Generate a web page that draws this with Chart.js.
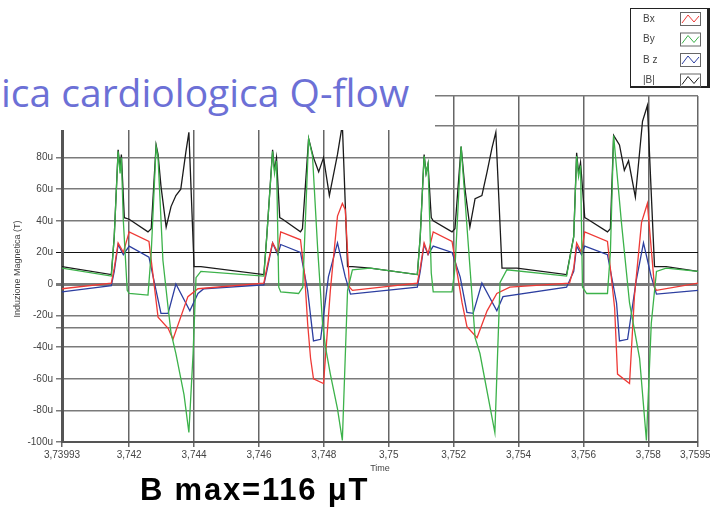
<!DOCTYPE html>
<html>
<head>
  <meta charset="utf-8">
  <script src="https://cdn.jsdelivr.net/npm/chart.js"></script>
  <style>
    body { margin: 0; background: #fff; }
    #wrap { position: relative; width: 710px; height: 508px; overflow: hidden; }
    #cover { position: absolute; left: 0; top: 0; width: 435px; height: 130px; background: #fff; }
    #title { position: absolute; left: 1px; top: 72px; font: 39px 'Open Sans', sans-serif; line-height: 1; color: #6c70d6; white-space: nowrap; }
    #bmax { position: absolute; left: 140px; top: 474px; font: bold 31px 'Liberation Sans', sans-serif; line-height: 1; letter-spacing: 1.8px; color: #000; white-space: nowrap; }
  </style>
</head>
<body>
<div id="wrap">
  <canvas id="chart" width="710" height="508"></canvas>
  <div id="cover"></div>
  <div id="title">ica cardiologica Q-flow</div>
  <div id="bmax">B max=116 μT</div>
</div>
<script>
// tick labels
const xTicks = [3.73993, 3.742, 3.744, 3.746, 3.748, 3.75, 3.752, 3.754, 3.756, 3.758, 3.75953];
const yTicks = [-100, -80, -60, -40, -28, -20, 0, 20, 40, 60, 80, 100, 119];

// Bx (red)
const bxT = [3.73993, 3.74145, 3.74154, 3.74166, 3.74182, 3.742, 3.74261, 3.74289, 3.7432, 3.74335, 3.74381, 3.74412, 3.74615,
  3.74624, 3.74642, 3.74658, 3.74667, 3.74728, 3.74741, 3.7475, 3.74759, 3.74768, 3.74799, 3.7482, 3.74842, 3.74857, 3.74866, 3.74879, 3.74888, 3.75088,
  3.75097, 3.75109, 3.75121, 3.75137, 3.75195, 3.75226, 3.75241, 3.75272, 3.75303, 3.75333, 3.75373, 3.75557,
  3.7557, 3.75579, 3.75594, 3.75604, 3.75674, 3.75696, 3.75705, 3.75742, 3.75757, 3.75779, 3.75797, 3.75819, 3.75825, 3.75953];
const bxV = [-3, 0.5, 10, 26, 20, 33, 27, -21, -28, -35, -8, -3, 0.6,
  10, 26, 20, 33, 28, 5, -25, -47, -60, -63, -4, 43, 51, 47, -2, -4, 0.6,
  10, 26, 19, 33, 27, -12, -27, -34, -17, -6, -2, 0.6,
  10, 26, 20, 33, 27, -15, -57, -63, -8, 39, 51, -2, -4, 0.6];

// By (green)
const byT = [3.73993, 3.74145, 3.74154, 3.74166, 3.74172, 3.74176, 3.74182, 3.74194, 3.742, 3.74258, 3.74268, 3.74283, 3.74289, 3.74304, 3.7432, 3.74329, 3.74344, 3.74369, 3.74384, 3.74397, 3.74406, 3.74421, 3.74615,
  3.74624, 3.74642, 3.74648, 3.74654, 3.74661, 3.74667, 3.74722, 3.74735, 3.74753, 3.74765, 3.74781, 3.74796, 3.74805, 3.7482, 3.74842, 3.74857, 3.74873, 3.74888, 3.74943, 3.75088,
  3.75097, 3.75109, 3.75115, 3.75121, 3.75131, 3.75137, 3.75195, 3.75204, 3.75223, 3.75244, 3.75266, 3.75281, 3.75327, 3.75343, 3.75364, 3.75548,
  3.7557, 3.75579, 3.75585, 3.75591, 3.75597, 3.7561, 3.75674, 3.75683, 3.75693, 3.75717, 3.75742, 3.75773, 3.75794, 3.75809, 3.75825, 3.75855, 3.75953];
const byV = [10, 5, 30, 84, 70, 80, 40, -4, -6, -7, 20, 87, 80, 15, -15, -31, -44, -70, -94, -44, 4, 8, 5,
  30, 84, 70, 78, -2, -5, -6, -2, 92, 81, 22, -25, -40, -57, -79, -99, -4, 9, 10, 6,
  30, 81, 70, 76, 7, -5, -5, 10, 87, 28, -34, -44, -94, 1, 9, 5,
  30, 81, 68, 75, -2, -6, -6, 20, 94, 39, -12, -47, -99, -25, 8, 10, 8];

// Bz (blue)
const bzT = [3.73993, 3.74145, 3.74154, 3.74166, 3.74182, 3.742, 3.74261, 3.74298, 3.7432, 3.74344, 3.74387, 3.74412, 3.7443, 3.74615,
  3.74624, 3.74642, 3.74658, 3.74667, 3.74728, 3.7475, 3.74768, 3.7479, 3.74814, 3.74842, 3.74866, 3.74882, 3.75088,
  3.75097, 3.75109, 3.75121, 3.75137, 3.75195, 3.7522, 3.75241, 3.7526, 3.75287, 3.75333, 3.75352, 3.75548,
  3.7557, 3.75579, 3.75594, 3.75604, 3.75674, 3.75702, 3.75711, 3.75736, 3.75763, 3.75785, 3.75809, 3.75825, 3.75953];
const bzV = [-5, -1, 8, 25, 18.6, 24, 17, -18.6, -18.6, 0, -17, -6, -3, -0.6,
  8, 26, 18.6, 25, 20, -4, -36, -35, 4.5, 26, 4.5, -6.4, -2,
  8, 25, 18.6, 24, 20, 4.5, -18, -18.6, 0.6, -17, -8, -2,
  8, 24, 18.6, 24, 18.6, -12, -36, -35, 2.6, 26, 4.5, -6.4, -4];

// |B| (black)
const bmT = [3.73993, 3.74145, 3.74154, 3.74166, 3.74172, 3.74176, 3.74185, 3.742, 3.74258, 3.74268, 3.74283, 3.74289, 3.74298, 3.74314, 3.74329, 3.74344, 3.74359, 3.74375, 3.74384, 3.744, 3.74421, 3.74615,
  3.74624, 3.74642, 3.74648, 3.74654, 3.74664, 3.74673, 3.74728, 3.74734, 3.74753, 3.74768, 3.74784, 3.74799, 3.74817, 3.74842, 3.74857, 3.74873, 3.74888, 3.74943, 3.75088,
  3.75097, 3.75109, 3.75115, 3.75121, 3.75131, 3.75137, 3.75195, 3.75204, 3.75223, 3.75235, 3.7525, 3.75266, 3.75287, 3.75303, 3.75318, 3.7533, 3.75349, 3.75395, 3.75548,
  3.7557, 3.75579, 3.75585, 3.75591, 3.75604, 3.75613, 3.75674, 3.75683, 3.75693, 3.75711, 3.75726, 3.75739, 3.7576, 3.75782, 3.75797, 3.75819, 3.75855, 3.75953];
const bmV = [11, 6, 30, 85, 73, 82, 42, 41, 33, 35, 88, 82, 62, 36, 49, 56, 60, 84, 96, 11, 11, 6,
  30, 85, 72, 80, 42, 41, 33, 35, 92, 80, 71, 80, 56, 82, 101, 11, 11, 10, 6,
  30, 82, 70, 76, 42, 40, 33, 35, 87, 60, 36, 54, 56, 71, 86, 96, 10, 10, 6,
  30, 83, 70, 77, 42, 41, 33, 35, 94, 88, 72, 78, 55, 103, 113, 11, 11, 8];

function pts(t, v) {
  return t.map((x, i) => ({x: x, y: v[i]}));
}

// legend box in the top right corner, drawn on the canvas
const legendBox = {
  id: 'legendBox',
  afterDraw(chart) {
    const ctx = chart.ctx;
    ctx.save();
    ctx.fillStyle = '#fff';
    ctx.fillRect(630, 8, 78, 79);
    ctx.strokeStyle = '#222';
    ctx.lineWidth = 1;
    ctx.strokeRect(630.5, 8.5, 77, 78);
    ctx.lineWidth = 2;
    ctx.beginPath();
    ctx.moveTo(630, 87); ctx.lineTo(709, 87); ctx.lineTo(709, 8);
    ctx.stroke();
    ctx.font = '10px "Liberation Sans"';
    ctx.textBaseline = 'middle';
    chart.data.datasets.forEach((ds, i) => {
      const y = 19 + i * 20.5;
      ctx.fillStyle = '#444';
      ctx.fillText(ds.label, 643, y);
      ctx.strokeStyle = '#666';
      ctx.lineWidth = 1;
      ctx.strokeRect(680.5, y - 6.5, 20, 13);
      ctx.strokeStyle = ds.borderColor;
      ctx.beginPath();
      ctx.moveTo(682, y + 4);
      ctx.lineTo(688, y - 4);
      ctx.lineTo(694, y + 3);
      ctx.lineTo(699, y - 3);
      ctx.stroke();
    });
    ctx.restore();
  }
};

const ctx = document.getElementById('chart').getContext('2d');
new Chart(ctx, {
  type: 'line',
  data: {
    datasets: [
      {label: 'Bx', data: pts(bxT, bxV), borderColor: '#ee3a36', order: 1},
      {label: 'By', data: pts(byT, byV), borderColor: '#3cb24a', order: 0},
      {label: 'B z', data: pts(bzT, bzV), borderColor: '#2c3ea0', order: 2},
      {label: '|B|', data: pts(bmT, bmV), borderColor: '#1a1a1a', order: 3}
    ]
  },
  options: {
    responsive: false,
    animation: false,
    events: [],
    elements: {
      point: {radius: 0},
      line: {borderWidth: 1.3, tension: 0}
    },
    layout: {padding: {left: 0, right: 12, top: 96, bottom: 0}},
    plugins: {legend: {display: false}, tooltip: {enabled: false}},
    scales: {
      x: {
        type: 'linear',
        min: 3.73993,
        max: 3.75953,
        afterBuildTicks: s => { s.ticks = xTicks.map(v => ({value: v})); },
        afterFit: s => { s.height = 66; s.paddingLeft = 0; s.paddingRight = 0; },
        ticks: {
          autoSkip: false,
          maxRotation: 0,
          padding: 2,
          color: '#444',
          font: {family: 'Liberation Sans', size: 10},
          callback: v => String(v).replace('.', ',')
        },
        grid: {color: '#666', lineWidth: 1.5, tickLength: 5},
        border: {color: '#555', width: 2},
        title: {display: true, text: 'Time', color: '#444', font: {family: 'Liberation Sans', size: 9}, padding: {top: 0, bottom: 34}}
      },
      y: {
        min: -100,
        max: 119,
        afterBuildTicks: s => { s.ticks = yTicks.map(v => ({value: v})); },
        afterFit: s => { s.width = 62; },
        ticks: {
          autoSkip: false,
          padding: 3,
          color: '#444',
          font: {family: 'Liberation Sans', size: 10},
          callback: v => (v === -28 || v === 119) ? '' : (v === 0 ? '0' : v + 'u')
        },
        grid: {
          color: c => (c.tick && c.tick.value === 20) ? '#111' : '#7a7a7a',
          lineWidth: c => (c.tick && c.tick.value === 0) ? 3 : (c.tick && c.tick.value === 20 ? 1 : 1.5),
          tickLength: 6
        },
        border: {color: '#555', width: 3},
        title: {display: true, text: 'Induzione Magnetica (T)', color: '#444', font: {family: 'Liberation Sans', size: 9}, padding: {top: 12, bottom: 0}}
      }
    }
  },
  plugins: [legendBox]
});
</script>
</body>
</html>
